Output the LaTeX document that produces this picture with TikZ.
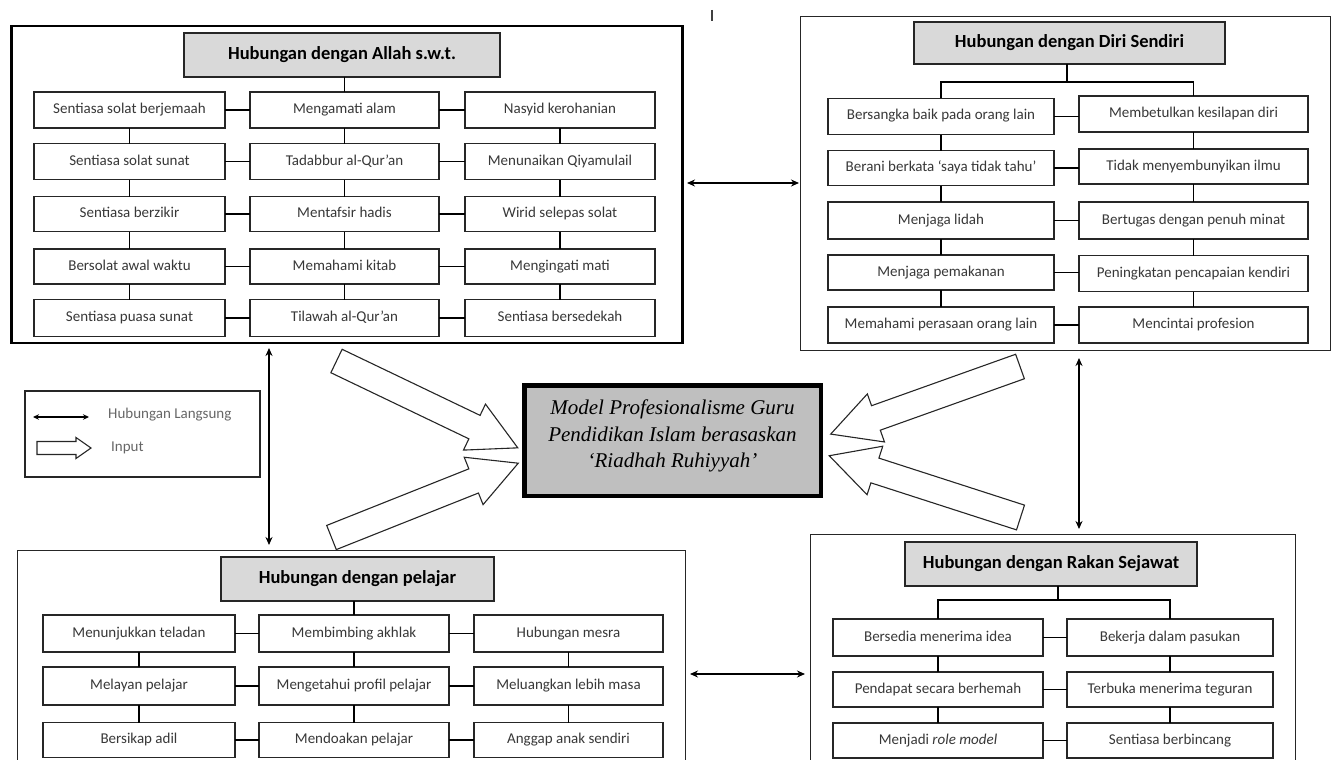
\documentclass[tikz,border=0pt]{standalone}
\usepackage{fontspec}
\setmainfont{Carlito}
\newfontfamily\modelfont{Liberation Serif}
\usetikzlibrary{arrows.meta}
\newcommand\cellat[6]{\node[cellbox,minimum width=#4pt,minimum height=#5pt] (#1) at (#2,#3) {#6};}
\tikzset{
  panelthick/.style={draw=black, line width=2.6pt, inner sep=0pt, rectangle},
  panelthin/.style={draw=black!85, line width=1.3pt, inner sep=0pt, rectangle},
  cellbox/.style={draw=black!85, line width=1.3pt, rectangle, inner sep=0pt, outer sep=0pt, fill=white,
    font=\fontsize{15}{18}\selectfont, text=black!78, text height=10.5pt, text depth=3.5pt},
  titlebox/.style={draw=black!85, fill=black!15, line width=1.5pt, rectangle, inner sep=0pt, outer sep=0pt,
    font=\fontsize{18.5}{22}\selectfont\bfseries, text=black, text height=13pt, text depth=4pt},
  link/.style={draw=black, line width=1.3pt},
  dbl/.style={line width=1.3pt, {Stealth[length=8pt,width=7pt]}-{Stealth[length=8pt,width=7pt]}},
  dblsmall/.style={line width=1.1pt, {Stealth[length=6pt,width=5.5pt]}-{Stealth[length=6pt,width=5.5pt]}},
  fat/.style={draw=black!85, line width=1.1pt, fill=white, line join=miter},
  legendtext/.style={font=\fontsize{15}{18}\selectfont, text=black!60, inner sep=0pt},
  fatarrow/.pic={\draw[fat] (0,-13) -- (153,-13) -- (153,-25.5) -- (201,0) -- (153,25.5) -- (153,13) -- (0,13) -- cycle;},
  smallfat/.pic={\draw[fat] (0,-6.5) -- (39,-6.5) -- (39,-10.5) -- (54,0) -- (39,10.5) -- (39,6.5) -- (0,6.5) -- cycle;},
}
\begin{document}
\begin{tikzpicture}[x=1pt,y=-1pt]
\useasboundingbox (0,0) rectangle (1334,760);
\clip (0,0) rectangle (1334,760);

% stray mark
\draw[line width=1.8pt, black!75] (712,10) -- (712,21);

% panels
\node[panelthick, minimum width=671pt, minimum height=317pt] (tl) at (347,184.5) {};
\node[panelthin, minimum width=529.8pt, minimum height=333.8pt] (tr) at (1065.5,183.5) {};
\node[panelthin, minimum width=668pt, minimum height=449.4pt] (bl) at (351.5,775.3) {};
\node[panelthin, minimum width=485pt, minimum height=265.4pt] (br) at (1053,667.3) {};

% ---------- top-left: Allah ----------
\node[titlebox, minimum width=316pt, minimum height=44pt] (At) at (342,55) {Hubungan dengan Allah s.w.t.};
\cellat{A11}{129.5}{110}{191}{36}{Sentiasa solat berjemaah}
\cellat{A12}{344.5}{110}{189}{36}{Mengamati alam}
\cellat{A13}{560}{110}{190}{36}{Nasyid kerohanian}
\cellat{A21}{129.5}{161.5}{191}{36}{Sentiasa solat sunat}
\cellat{A22}{344.5}{161.5}{189}{36}{Tadabbur al-Qur’an}
\cellat{A23}{560}{161.5}{190}{36}{Menunaikan Qiyamulail}
\cellat{A31}{129.5}{214}{191}{35}{Sentiasa berzikir}
\cellat{A32}{344.5}{214}{189}{35}{Mentafsir hadis}
\cellat{A33}{560}{214}{190}{35}{Wirid selepas solat}
\cellat{A41}{129.5}{266.5}{191}{35}{Bersolat awal waktu}
\cellat{A42}{344.5}{266.5}{189}{35}{Memahami kitab}
\cellat{A43}{560}{266.5}{190}{35}{Mengingati mati}
\cellat{A51}{129.5}{318}{191}{37}{Sentiasa puasa sunat}
\cellat{A52}{344.5}{318}{189}{37}{Tilawah al-Qur’an}
\cellat{A53}{560}{318}{190}{37}{Sentiasa bersedekah}
\draw[link] (A12.north |- At.south) -- (A12.north);
\foreach \r in {1,...,5} { \draw[link] (A\r1.east) -- (A\r2.west) (A\r2.east) -- (A\r3.west); }
\foreach \r/\s in {1/2,2/3,3/4,4/5} { \foreach \c in {1,2,3} { \draw[link] (A\r\c.south) -- (A\s\c.north); } }

% ---------- top-right: Diri Sendiri ----------
\node[titlebox, minimum width=311pt, minimum height=42pt] (Bt) at (1069.5,43) {Hubungan dengan Diri Sendiri};
\cellat{B11}{941}{116.5}{226}{36}{Bersangka baik pada orang lain}
\cellat{B12}{1193.5}{114}{229}{36}{Membetulkan kesilapan diri}
\cellat{B21}{941}{168}{226}{35}{Berani berkata ‘saya tidak tahu’}
\cellat{B22}{1193.5}{166.5}{229}{35}{Tidak menyembunyikan ilmu}
\cellat{B31}{941}{220.5}{226}{37}{Menjaga lidah}
\cellat{B32}{1193.5}{220.5}{229}{37}{Bertugas dengan penuh minat}
\cellat{B41}{941}{272.5}{226}{35}{Menjaga pemakanan}
\cellat{B42}{1193.5}{273.5}{229}{36}{Peningkatan pencapaian kendiri}
\cellat{B51}{941}{325}{226}{36}{Memahami perasaan orang lain}
\cellat{B52}{1193.5}{325}{229}{36}{Mencintai profesion}
\coordinate (Bbar) at (1067,82);
\draw[link] (Bbar |- Bt.south) -- (Bbar);
\draw[link] (B11.north) |- (Bbar) -| (B12.north);
\foreach \r in {1,...,5} { \draw[link] (B\r1.east) -- (B\r1.east -| B\r2.west); }
\foreach \r/\s in {1/2,2/3,3/4,4/5} { \foreach \c in {1,2} { \draw[link] (B\r\c.south) -- (B\s\c.north); } }

% ---------- bottom-left: pelajar ----------
\node[titlebox, minimum width=273pt, minimum height=44pt] (Ct) at (357.5,579) {Hubungan dengan pelajar};
\cellat{C11}{139}{633.5}{192}{37}{Menunjukkan teladan}
\cellat{C12}{354}{633.5}{190}{37}{Membimbing akhlak}
\cellat{C13}{568.5}{633.5}{189}{37}{Hubungan mesra}
\cellat{C21}{139}{686}{192}{38}{Melayan pelajar}
\cellat{C22}{354}{686}{190}{38}{Mengetahui profil pelajar}
\cellat{C23}{568.5}{686}{189}{38}{Meluangkan lebih masa}
\cellat{C31}{139}{740}{192}{35}{Bersikap adil}
\cellat{C32}{354}{740}{190}{35}{Mendoakan pelajar}
\cellat{C33}{568.5}{740}{189}{35}{Anggap anak sendiri}
\draw[link] (C12.north |- Ct.south) -- (C12.north);
\foreach \r in {1,2,3} { \draw[link] (C\r1.east) -- (C\r2.west) (C\r2.east) -- (C\r3.west); }
\foreach \r/\s in {1/2,2/3} { \foreach \c in {1,2,3} { \draw[link] (C\r\c.south) -- (C\s\c.north); } }

% ---------- bottom-right: Rakan Sejawat ----------
\node[titlebox, minimum width=292pt, minimum height=44pt] (Dt) at (1051,564) {Hubungan dengan Rakan Sejawat};
\cellat{D11}{938}{637.5}{210}{37}{Bersedia menerima idea}
\cellat{D12}{1170}{637.5}{206}{37}{Bekerja dalam pasukan}
\cellat{D21}{938}{689.5}{210}{35}{Pendapat secara berhemah}
\cellat{D22}{1170}{689.5}{206}{35}{Terbuka menerima teguran}
\cellat{D31}{938}{740.5}{210}{35}{Menjadi \textit{role model}}
\cellat{D32}{1170}{740.5}{206}{35}{Sentiasa berbincang}
\coordinate (Dbar) at (1058,600);
\draw[link] (Dbar |- Dt.south) -- (Dbar);
\draw[link] (D11.north) |- (Dbar) -| (D12.north);
\foreach \r in {1,2,3} { \draw[link] (D\r1.east) -- (D\r2.west); }
\foreach \r/\s in {1/2,2/3} { \foreach \c in {1,2} { \draw[link] (D\r\c.south) -- (D\s\c.north); } }

% ---------- centre ----------
\node[draw=black, line width=4.5pt, fill=black!25, minimum width=296.5pt, minimum height=110.5pt, inner sep=0pt] (model) at (672.5,440.5) {};
\node[font=\modelfont\itshape\fontsize{21}{26.5}\selectfont, align=center, text=black, inner sep=0pt] (modeltext) at (672.5,436)
  {Model Profesionalisme Guru\\Pendidikan Islam berasaskan\\‘Riadhah Ruhiyyah’};

% fat input arrows
\coordinate (f1) at (336.5,361);
\coordinate (f2) at (331.5,537.5);
\coordinate (f3) at (1020,366.5);
\coordinate (f4) at (1020.5,517.5);
\pic[rotate=-25.6] at (f1) {fatarrow};
\pic[rotate=21.7] at (f2) {fatarrow};
\pic[rotate=199.65] at (f3) {fatarrow};
\pic[rotate=162.1] at (f4) {fatarrow};

% direct relation arrows
\coordinate (h1a) at (687,183); \coordinate (h1b) at (799,183);
\coordinate (h2a) at (690,674); \coordinate (h2b) at (805,674);
\coordinate (v1a) at (269,348); \coordinate (v1b) at (269,545);
\coordinate (v2a) at (1079,358); \coordinate (v2b) at (1079,529);
\draw[dbl] (h1a) -- (h1b);
\draw[dbl] (h2a) -- (h2b);
\draw[dbl] (v1a) -- (v1b);
\draw[dbl] (v2a) -- (v2b);

% legend
\node[draw=black!85, line width=1.4pt, minimum width=235pt, minimum height=86pt, inner sep=0pt] (legend) at (142.5,434) {};
\coordinate (la) at (33,417); \coordinate (lb) at (89,417);
\draw[dblsmall] (la) -- (lb);
\node[legendtext, anchor=west] (lt1) at (108,415) {Hubungan Langsung};
\coordinate (li) at (37,448);
\pic at (li) {smallfat};
\node[legendtext, anchor=west] (lt2) at (111,448) {Input};
\end{tikzpicture}
\end{document}
